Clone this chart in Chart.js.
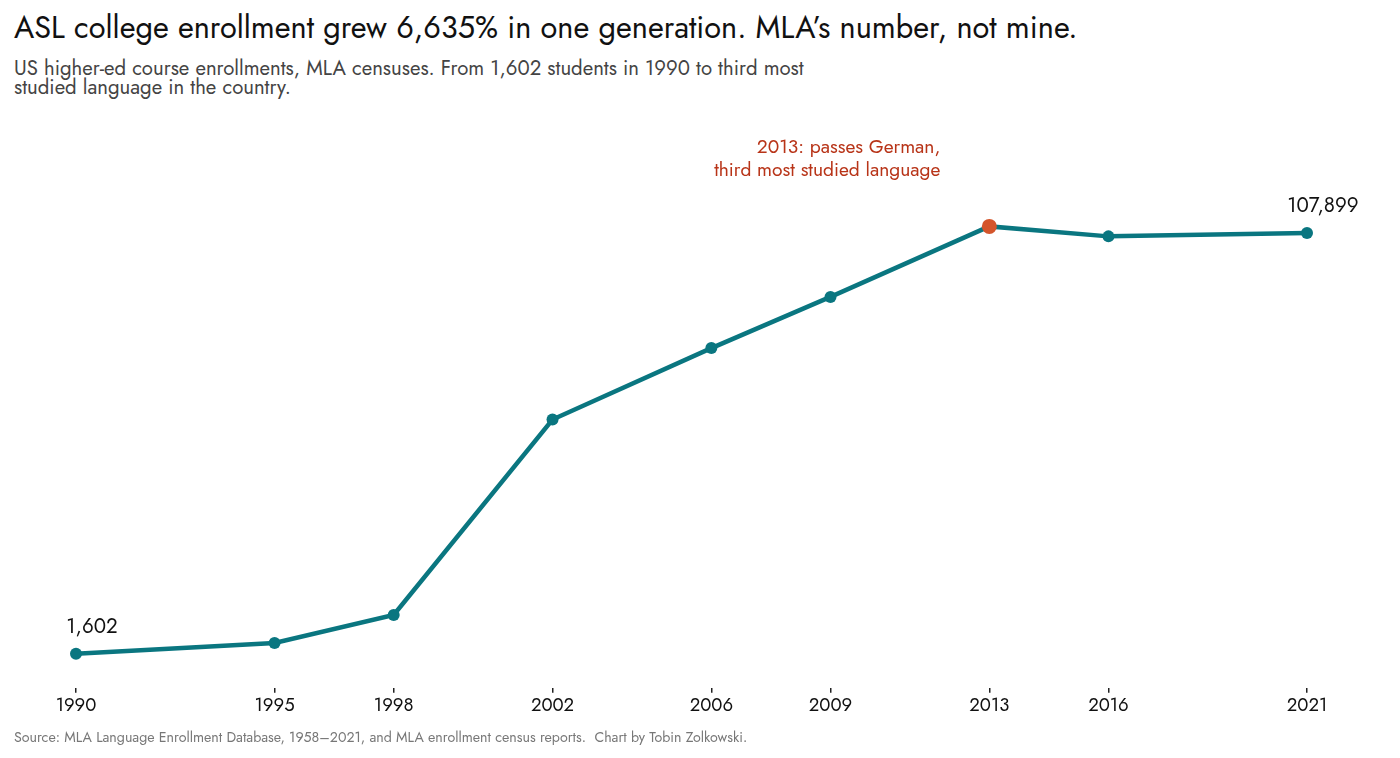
<!DOCTYPE html>
<html>
<head>
<meta charset="utf-8">
<script src="https://cdn.jsdelivr.net/npm/chart.js@4"></script>
<style>
  html, body { margin:0; padding:0; background:#fff; width:1400px; height:758px; overflow:hidden; }
  body { font-family: "Jost", "Lato", sans-serif; position:relative; }
  #title { position:absolute; left:14px; top:10px; font-size:30.7px; line-height:36px; color:#111; white-space:nowrap; }
  #subtitle { position:absolute; left:14px; top:59px; font-size:20.35px; line-height:19px; color:#444; white-space:nowrap; }
  #source { position:absolute; left:14px; top:729px; font-size:14.2px; line-height:17px; color:#777; white-space:nowrap; }
  #wrap { position:absolute; left:0; top:0; width:1400px; height:758px; }
</style>
</head>
<body>
<div id="title">ASL college enrollment grew 6,635% in one generation. MLA’s number, not mine.</div>
<div id="subtitle">US higher-ed course enrollments, MLA censuses. From 1,602 students in 1990 to third most<br>studied language in the country.</div>
<div id="wrap"><canvas id="c"></canvas></div>
<div id="source">Source: MLA Language Enrollment Database, 1958–2021, and MLA enrollment census reports.&nbsp; Chart by Tobin Zolkowski.</div>
<script>
const years = [1990, 1995, 1998, 2002, 2006, 2009, 2013, 2016, 2021];
const enrollments = [1602, 4304, 11420, 60781, 78829, 91763, 109577, 107060, 107899];
const tickYears = [1990, 1995, 1998, 2002, 2006, 2009, 2013, 2016, 2021];
const highlightYear = 2013;
const annotationLines = ["2013: passes German,", "third most studied language"];
const labeledYears = [1990, 2021];

const TEAL = "#0a7680";
const ORANGE = "#d4552b";
const FONT = '"Jost", "Lato", sans-serif';

const labelPlugin = {
  id: "labels",
  afterDatasetsDraw(chart) {
    const ctx = chart.ctx;
    const meta = chart.getDatasetMeta(0);
    ctx.save();
    ctx.font = "20.5px " + FONT;
    ctx.fillStyle = "#111";
    ctx.textAlign = "center";
    ctx.textBaseline = "middle";
    labeledYears.forEach(y => {
      const i = years.indexOf(y);
      const p = meta.data[i];
      ctx.fillText(enrollments[i].toLocaleString("en-US"), p.x + 16, p.y - 26);
    });
    const hi = years.indexOf(highlightYear);
    const hp = meta.data[hi];
    ctx.font = "19.2px " + FONT;
    ctx.fillStyle = "#b83418";
    ctx.textAlign = "right";
    ctx.textBaseline = "middle";
    ctx.fillText(annotationLines[0], hp.x - 49, hp.y - 78);
    ctx.fillText(annotationLines[1], hp.x - 49, hp.y - 55);
    ctx.restore();
  }
};

new Chart(document.getElementById("c"), {
  type: "line",
  data: {
    datasets: [{
      data: years.map((y, i) => ({ x: y, y: enrollments[i] })),
      borderColor: TEAL,
      borderWidth: 4.5,
      pointRadius: ctx => years[ctx.dataIndex] === highlightYear ? 7.5 : 6,
      pointBackgroundColor: ctx => years[ctx.dataIndex] === highlightYear ? ORANGE : TEAL,
      pointBorderWidth: 0,
      pointHoverRadius: 7,
      tension: 0,
      clip: false
    }]
  },
  options: {
    responsive: true,
    maintainAspectRatio: false,
    animation: false,
    layout: { padding: { left: 76, right: 93, top: 200, bottom: 37 } },
    plugins: { legend: { display: false }, tooltip: { enabled: false } },
    scales: {
      x: {
        type: "linear",
        min: 1990,
        max: 2021,
        afterBuildTicks: s => { s.ticks = tickYears.map(v => ({ value: v })); },
        grid: { display: true, drawOnChartArea: false, drawTicks: true, tickLength: 5, color: "#222", lineWidth: 1.5 },
        border: { display: false },
        ticks: {
          autoSkip: false,
          maxRotation: 0,
          padding: 3,
          color: "#111",
          font: { family: FONT, size: 18.5 },
          callback: v => String(v)
        }
      },
      y: {
        display: false,
        min: -7000,
        max: 116250
      }
    }
  },
  plugins: [labelPlugin]
});
</script>
</body>
</html>
